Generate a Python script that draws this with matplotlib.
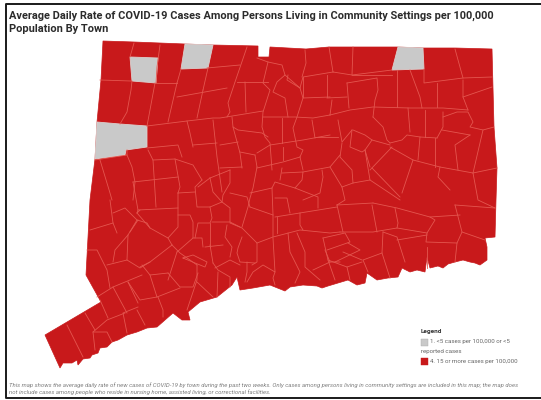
# Connecticut town map, rate of COVID-19 cases

import matplotlib
matplotlib.use("Agg")
import matplotlib.pyplot as plt
from matplotlib.patches import Polygon

plt.rcParams['font.family'] = ['Roboto', 'DejaVu Sans']

# text
title_lines = ["Average Daily Rate of COVID-19 Cases Among Persons Living in Community Settings per 100,000",
               "Population By Town"]
footer_lines = ["This map shows the average daily rate of new cases of COVID-19 by town during the past two weeks. Only cases among persons living in community settings are included in this map; the map does",
                "not include cases among people who reside in nursing home, assisted living, or correctional facilities."]
legend_title = "Legend"
legend_low = ["1. <5 cases per 100,000 or <5", "reported cases"]
legend_high = "4. 15 or more cases per 100,000"

# colours
red = "#c8191b"
grey = "#c9c9c9"
border = "#e4564f"

# state outline
state_outline = [(103,41),(134,42),(185,44),(213,45),(258,46),(258,57),(269,57),(270,47),(306,49),(329,47),
    (397,47),(423,48),(455,48),(492,49),(494,127),(497,168),(496,200),(495,237),(485,238),(487,247),(487,260),
    (480,265),(475,263),(470,262),(463,260),(455,262),(448,264),(443,268),(438,266),(430,268),(427,257),(425,272),
    (417,270),(410,272),(402,268),(398,277),(388,278),(377,280),(367,273),(365,283),(357,285),(348,280),(328,286),
    (322,288),(317,286),(303,285),(290,287),(285,291),(270,285),(253,288),(240,290),(237,277),(232,285),(217,297),
    (200,302),(188,312),(190,320),(182,320),(173,313),(157,327),(147,328),(137,332),(127,335),(118,340),(112,342),
    (107,347),(100,348),(98,353),(92,355),(90,358),(83,359),(78,365),(77,360),(72,363),(63,363),(60,368),(45,335),
    (101,302),(86,275),(90,200),(95,159),(97,122),(101,80)]

# towns in the low class
low_towns = [
    [(130,57),(158,58),(156,83),(132,81)],
    [(185,44),(213,45),(208,68),(181,69)],
    [(398,47),(423,48),(424,69),(392,70)],
    [(97,122),(120,124),(147,126),(147,147),(126,150),(125,155),(95,159)],
]

# town boundaries
town_lines = [
    # north west
    [(134,43),(130,57)], [(160,45),(157,67),(156,83)], [(100,80),(131,81)], [(156,83),(177,83)],
    [(132,81),(131,90),(127,112),(120,124)], [(155,83),(147,126)], [(177,83),(168,122)], [(181,69),(177,83)],
    [(147,126),(187,121),(213,118),(220,118),(263,111)], [(177,97),(227,88)], [(203,90),(197,118)],
    [(208,68),(203,90)], [(207,68),(240,65)], [(187,121),(190,133),(193,147)],
    [(147,148),(178,145),(182,157)], [(213,120),(217,157),(222,192)], [(193,145),(217,143)],
    [(95,160),(127,155),(127,150)], [(127,155),(132,167),(135,182),(133,200)], [(100,160),(110,193),(112,200)],
    # north centre
    [(247,47),(235,82),(228,103),(230,112),(227,117)], [(237,82),(268,82)], [(245,82),(246,112)],
    [(268,62),(263,83),(270,90),(263,112),(262,127),(265,137),(270,143),(272,170)],
    [(257,58),(268,62),(282,65),(285,75),(277,82),(273,92),(285,98),(288,117)],
    [(285,75),(300,88)], [(288,75),(287,80),(300,88),(303,77),(333,72)], [(305,50),(306,63),(302,77)],
    [(300,88),(303,98),(297,117),(293,128),(297,147),(303,150),(300,157)], [(303,98),(330,97)],
    [(263,117),(295,117),(313,118),(330,115)], [(232,117),(233,127),(238,130),(262,133),(268,137)],
    [(233,127),(240,153),(242,168)], [(220,145),(238,142)], [(240,152),(255,155)], [(255,155),(257,167)],
    [(257,153),(270,145),(303,140),(330,135)], [(282,118),(282,143)], [(312,120),(315,138)],
    [(283,147),(283,160)], [(257,168),(283,162),(300,157)], [(300,157),(303,170)], [(220,168),(242,167)],
    # north east
    [(329,47),(333,72)], [(353,47),(352,75)], [(333,72),(352,75),(392,70)],
    [(352,75),(392,75)], [(424,69),(424,83),(463,78),(492,77)], [(455,49),(463,78)],
    [(410,70),(420,97),(422,108)], [(397,70),(397,107)], [(437,83),(437,107)], [(463,80),(463,97),(468,110)],
    [(463,97),(492,87)], [(347,83),(377,78),(378,90),(375,100),(373,117)], [(347,83),(349,108)],
    [(327,75),(327,97)], [(303,77),(303,97)], [(327,98),(347,97)],
    [(330,115),(350,110),(373,107),(410,108),(443,108),(468,110)], [(330,115),(332,100)],
    [(373,117),(383,127),(387,140),(390,143)], [(408,108),(410,132)], [(425,110),(425,137)],
    [(443,112),(443,127),(437,138)], [(443,117),(457,112),(468,112),(473,122),(470,127),(483,130),(494,127)],
    [(442,130),(470,135)], [(483,130),(473,173)], [(470,135),(455,145),(458,170)],
    [(390,143),(402,140),(407,135),(420,137),(437,138)], [(420,137),(418,160)], [(435,138),(435,167)],
    [(390,147),(413,160),(440,167),(473,173),(497,168)], [(392,147),(370,170)], [(372,168),(400,197)],
    [(413,160),(402,193)], [(353,130),(365,135),(372,140),(390,145)], [(372,140),(365,150),(370,167)],
    [(352,130),(350,147),(362,152),(365,150)], [(338,120),(342,142),(352,130)],
    [(338,137),(315,137)], [(342,143),(340,157),(352,170),(353,183)],
    [(340,155),(330,167),(303,172)], [(365,150),(370,180),(353,183),(342,187)],
    [(330,167),(342,187),(345,200),(337,205)], [(322,170),(323,177),(320,193),(303,200)],
    [(473,173),(478,200),(495,208)], [(370,180),(400,200)], [(440,167),(438,177),(450,190)],
    # south east
    [(275,217),(337,207)], [(337,205),(343,232)],
    [(340,232),(373,232),(397,228),(427,233)], [(372,205),(377,232)], [(395,208),(398,223),(397,228)],
    [(337,205),(373,203)], [(373,203),(397,208),(430,217),(460,215)],
    [(430,217),(435,220),(427,233),(426,242),(457,243)], [(455,205),(462,232),(457,243),(455,262)],
    [(455,205),(495,208)], [(462,232),(485,240)], [(427,247),(427,268)], [(397,240),(427,235)],
    [(383,232),(397,237),(405,262)], [(383,232),(382,253),(390,278)], [(382,253),(363,260),(368,272)],
    [(323,238),(328,260),(335,280)], [(323,238),(345,233),(350,242),(327,250)],
    [(348,243),(360,250),(335,262)], [(343,252),(362,260)], [(328,260),(347,267),(362,262)], [(347,267),(350,280)],
    # south centre
    [(257,167),(253,188),(250,198),(248,207),(242,227)], [(230,193),(247,197),(250,207)], [(250,207),(273,215)],
    [(250,193),(272,188),(273,215),(273,237)], [(272,188),(275,182),(295,188),(318,197),(318,208)],
    [(282,168),(280,180)], [(282,173),(303,172),(302,180),(295,188)], [(275,198),(287,198),(290,213)],
    [(277,217),(277,233)], [(257,243),(273,237),(300,230),(330,233),(340,232)], [(300,213),(300,225),(303,230)],
    [(230,223),(242,228),(257,243),(257,262),(252,265)], [(242,237),(238,248),(237,253),(240,262),(255,263)],
    [(273,238),(275,272),(263,265),(253,272),(247,282)], [(288,233),(290,252),(300,272),(295,283)],
    [(297,233),(305,252),(305,267),(320,280)], [(313,270),(330,262),(340,262)], [(325,250),(330,262)],
    [(275,272),(273,278),(275,285)], [(247,262),(247,272),(245,282)],
    # middle
    [(153,160),(175,159),(193,165),(202,180)], [(148,150),(153,160),(156,207)], [(175,159),(180,187),(178,193)],
    [(133,182),(178,177)], [(133,182),(138,210),(137,213)], [(138,210),(178,208)], [(178,193),(195,192)],
    [(178,193),(178,227),(168,238)], [(137,213),(150,228),(168,238),(172,245)], [(130,232),(138,220)],
    [(178,215),(190,215),(193,222),(193,238),(177,252)], [(172,245),(150,262),(140,267)],
    [(172,245),(180,253),(197,265)], [(193,238),(202,238),(203,247)],
    [(202,180),(195,187),(197,207),(210,207),(222,202)], [(210,207),(212,218),(210,223),(198,223),(195,238)],
    [(210,178),(198,187)], [(210,178),(213,192),(222,202),(230,208),(230,222)],
    [(230,170),(230,183),(223,195),(222,202)], [(230,170),(210,178)], [(212,222),(230,222),(240,227)],
    [(227,225),(225,237),(232,247),(230,257)], [(210,223),(210,247)], [(205,247),(223,245)], [(210,245),(213,263)],
    [(183,258),(193,255),(207,262),(205,267),(195,263),(183,258)], [(215,268),(230,260),(240,265)],
    [(177,252),(168,280)],
    # south west
    [(90,230),(113,223)], [(110,200),(113,223),(117,233)],
    [(113,213),(125,208),(137,220),(128,235),(115,250),(113,262)], [(128,235),(127,260),(107,265)],
    [(87,250),(97,250),(107,270),(110,288)], [(97,297),(113,287),(142,275)],
    [(127,260),(140,268),(150,262)], [(140,210),(137,213)], [(137,220),(147,223),(150,228)],
    [(168,273),(150,275),(142,265)], [(168,273),(180,287),(193,287),(198,273)],
    [(150,275),(157,297),(140,300),(128,282)], [(157,297),(180,288)],
    [(113,287),(127,313)], [(128,282),(138,303)], [(100,300),(108,318)],
    [(125,313),(107,320),(93,332),(95,350)], [(138,307),(123,313),(127,333)], [(137,310),(145,325)],
    [(158,297),(163,310),(163,317)], [(85,313),(95,330)], [(67,325),(83,357)], [(93,332),(107,332),(112,342)],
    [(197,265),(197,280),(187,310)], [(197,282),(213,297)], [(218,272),(217,297)], [(213,263),(218,270),(230,277),(230,287)],
]

fig = plt.figure(figsize=(5.41, 4.00), dpi=100)
ax = fig.add_axes([0, 0, 1, 1])
ax.set_xlim(0, 541)
ax.set_ylim(400, 0)
ax.axis("off")

# map
ax.add_patch(Polygon(state_outline, closed=True, facecolor=red, edgecolor=red, linewidth=0.5))
for town in low_towns:
    ax.add_patch(Polygon(town, closed=True, facecolor=grey, edgecolor="#dccfcd", linewidth=0.6, zorder=2))
for line in town_lines:
    ax.plot([p[0] for p in line], [p[1] for p in line], color=border, linewidth=0.6,
            solid_joinstyle="round", zorder=3)

# frame round the screenshot
ax.plot([541, 5.5, 5.5, 541], [3.5, 3.5, 398, 398], color="#1a1a1a", linewidth=1.4, zorder=5)

# title
ax.text(9, 15.5, title_lines[0], fontsize=7.95, fontweight="bold", color="#2b2b2b", va="center")
ax.text(9, 29, title_lines[1], fontsize=7.95, fontweight="bold", color="#2b2b2b", va="center")

# legend
ax.text(421, 331.5, legend_title, fontsize=4.6, fontweight="bold", color="#333333", va="center")
ax.add_patch(Polygon([(421,339),(427.5,339),(427.5,345.5),(421,345.5)], closed=True, facecolor=grey, edgecolor="#aaaaaa", linewidth=0.3))
ax.text(430, 342, legend_low[0], fontsize=4.4, color="#666666", va="center")
ax.text(421, 351, legend_low[1], fontsize=4.4, color="#666666", va="center")
ax.add_patch(Polygon([(421,358),(428,358),(428,365),(421,365)], closed=True, facecolor=red, edgecolor=red, linewidth=0.3))
ax.text(430, 361.5, legend_high, fontsize=4.4, color="#666666", va="center")

# footer
ax.text(9, 385, footer_lines[0], fontsize=4.35, style="italic", color="#808080", va="center")
ax.text(9, 392, footer_lines[1], fontsize=4.35, style="italic", color="#808080", va="center")

fig.savefig("out.png", dpi=100)
